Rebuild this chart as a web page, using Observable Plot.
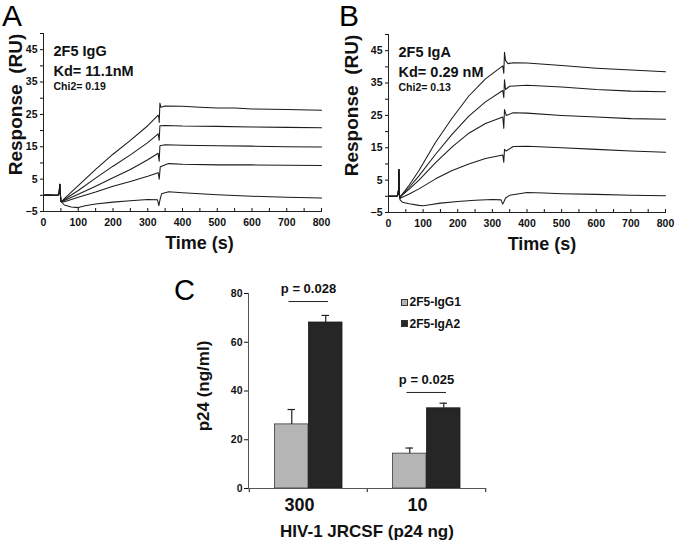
<!DOCTYPE html>
<html><head><meta charset="utf-8">
<script src="https://cdn.jsdelivr.net/npm/d3@7"></script>
<script src="https://cdn.jsdelivr.net/npm/@observablehq/plot@0.6"></script>
<style>
body{margin:0;background:#fff;font-family:"Liberation Sans",Arial,sans-serif;}
#fig{position:relative;width:677px;height:541px;overflow:hidden;background:#fff;}
.panel{position:absolute;}
.letter{position:absolute;font-size:30px;line-height:31px;height:31px;color:#000;font-family:"Liberation Sans",Arial,sans-serif;}
.legend{position:absolute;font-family:"Liberation Sans",Arial,sans-serif;font-weight:bold;font-size:12px;color:#111;}
.legend .row{position:absolute;left:0;white-space:nowrap;display:flex;align-items:center;}
.legend .sw{display:inline-block;width:5px;height:5px;border:0.8px solid #333;margin-right:1.5px;}
</style></head><body><div id="fig"></div>
<script>
// ---------- Panel A : 2F5 IgG sensorgrams (time s, response RU) ----------
const sprTicksX = [0, 100, 200, 300, 400, 500, 600, 700, 800];
const sprMinorX = [0, 50, 100, 150, 200, 250, 300, 350, 400, 450, 500, 550, 600, 650, 700, 750, 800];
const sprTicksY = [-5, 5, 15, 25, 35, 45];
const sprMinorY = [-5, 0, 5, 10, 15, 20, 25, 30, 35, 40, 45, 50];

const baseA = [[0,0],[15,0.1],[30,0],[42,0.1],[45,0.6],[47,3.4],[48.5,0.5],[50,-1.8]];
const a1 = [[52,-2],[60,-1],[80,1],[100,3],[150,8],[200,12.7],[250,17],[300,21.5],[330,24.8],[332,24],[333,22.5],[335,28.5],[338,27.2],[350,27.6],[400,27.5],[450,27.2],[500,27],[550,27],[600,26.7],[700,26.5],[800,26.3]];
const a2 = [[52,-2],[60,-1.3],[100,1.5],[150,5.3],[200,9],[250,12.5],[300,16.3],[330,19],[333,17],[335,21.5],[350,21.6],[400,21.4],[500,21.3],[600,21.1],[700,21],[800,20.9]];
const a3 = [[52,-2],[60,-1.6],[100,0.3],[150,2.8],[200,5.4],[250,8],[300,11],[330,13],[333,10.5],[335,15.3],[350,15.6],[400,15.5],[500,15.3],[600,15.2],[700,15],[800,14.9]];
const a4 = [[52,-2],[60,-2],[100,-0.6],[150,1],[200,2.8],[250,4.3],[300,5.9],[330,7],[333,5],[336,8.8],[360,9.8],[400,9.6],[500,9.4],[600,9.4],[700,9.3],[800,9.2]];
const a5 = [[52,-2],[60,-3],[80,-3.6],[100,-3.8],[120,-3.2],[150,-2.7],[200,-2.1],[250,-1.7],[300,-1.3],[328,-1.4],[332,-3.2],[335,-1.5],[340,0.5],[360,1.1],[400,0.8],[500,0.2],[600,-0.3],[700,-0.6],[800,-0.8]];
const textA = ["2F5 IgG", "Kd= 11.1nM", "Chi2= 0.19"];

// ---------- Panel B : 2F5 IgA sensorgrams ----------
const baseB = [[0,0],[15,0],[25,0.1],[27,0.5],[29,2],[30,8.3],[31.5,0.5],[33,-0.5]];
const b1 = [[35,0],[60,3.5],[88,8],[136,16.7],[184,24.2],[232,31],[280,36.3],[330,40.3],[333,38],[335,44.5],[338,42],[345,41],[360,41.3],[400,41.2],[450,40.8],[500,40.4],[600,39.6],[700,39],[800,38.5]];
const b2 = [[35,0],[60,2.8],[88,6.3],[136,13],[184,19.2],[232,24.8],[280,29.2],[330,32.7],[333,30.5],[335,36],[338,33],[350,34],[400,34.3],[500,33.8],[600,33],[700,32.5],[800,32.3]];
const b3 = [[35,0],[60,2.2],[88,5],[136,10.4],[184,15.3],[232,19.5],[280,22.5],[330,24.5],[333,21],[335,26.8],[340,25],[360,25.8],[400,25.7],[500,25],[600,24.5],[700,24],[800,23.8]];
const b4 = [[35,-0.5],[60,0.7],[88,2.3],[136,5.4],[184,8],[232,10],[280,11.7],[330,12.8],[333,10.5],[335,14.5],[340,14],[360,15.4],[400,15.5],[500,15],[600,14.5],[700,14],[800,13.6]];
const b5 = [[33,-1],[40,-1.8],[60,-2.3],[88,-2.8],[100,-2.9],[120,-2.6],[150,-2.1],[200,-1.6],[250,-1.2],[300,-1.0],[325,-1.1],[330,-2.4],[334,-1.5],[338,-0.5],[350,0.3],[400,1.2],[450,1.0],[500,0.8],[600,0.6],[700,0.3],[800,0.2]];
const textB = ["2F5 IgA", "Kd= 0.29 nM", "Chi2= 0.13"];

// ---------- Panel C : p24 bars ----------
const groupsC = ["300", "10"];
const seriesC = ["2F5-IgG1", "2F5-IgA2"];
const colorsC = ["#b5b5b5", "#262626"];
const igg1 = [26.3, 14.3];
const igg1Err = [6.1, 2.3];
const iga2 = [68.1, 32.9];
const iga2Err = [2.9, 2.1];
const pLabels = ["p = 0.028", "p = 0.025"];
const pLineY = [76.7, 39.4];
const ticksC = [0, 20, 40, 60, 80];

const FONT = "Liberation Sans, Arial, sans-serif";
const fig = document.getElementById("fig");

function place(el, left, top) {
  el.classList.add("panel");
  el.style.left = left + "px";
  el.style.top = top + "px";
  fig.appendChild(el);
}
function letter(t, left, top, size) {
  const d = document.createElement("div");
  d.className = "letter";
  d.textContent = t;
  d.style.left = left + "px";
  d.style.top = top + "px";
  if (size) d.style.fontSize = size + "px";
  fig.appendChild(d);
}

function sprPanel(base, curves, texts, o) {
  const data = curves.flatMap((c, i) => base.concat(c).map(([t, v]) => ({t, v, s: i})));
  return Plot.plot({
    width: o.width, height: 235,
    marginLeft: o.ml, marginRight: o.mr, marginTop: o.mt, marginBottom: o.mb,
    style: {fontFamily: FONT, fontWeight: "bold", fontSize: "10px", color: "#111", background: "transparent"},
    x: {domain: [0, 800]},
    y: {domain: [-5, 50]},
    marks: [
      Plot.axisX({ticks: sprMinorX, tickSize: -3, fill: "none", label: null}),
      Plot.axisX({ticks: sprTicksX, tickSize: 0, tickPadding: 7, fontSize: 10.5, label: null}),
      Plot.axisY({ticks: sprMinorY, tickSize: 3, fill: "none", label: null}),
      Plot.axisY({ticks: sprTicksY, tickSize: 0, tickPadding: 6, fontSize: 10.5, label: null}),
      Plot.frame({anchor: "left", stroke: "#222"}),
      Plot.frame({anchor: "bottom", stroke: "#222"}),
      Plot.line(data, {x: "t", y: "v", z: "s", stroke: "#1c1c1c", strokeWidth: 1.05}),
      Plot.text([texts[0]], {frameAnchor: "top-left", dx: o.tx, dy: 22, textAnchor: "start", lineAnchor: "bottom", fontSize: 14.5}),
      Plot.text([texts[1]], {frameAnchor: "top-left", dx: o.tx, dy: 42, textAnchor: "start", lineAnchor: "bottom", fontSize: 14.5}),
      Plot.text([texts[2]], {frameAnchor: "top-left", dx: o.tx, dy: 56, textAnchor: "start", lineAnchor: "bottom", fontSize: 10.5}),
      Plot.text(["Response\u00a0 (RU)"], {frameAnchor: "left", rotate: -90, dx: o.ydx, dy: -18, fontSize: 19, textAnchor: "middle", lineAnchor: "middle"}),
      Plot.text(["Time (s)"], {frameAnchor: "bottom", dx: o.xdx, dy: 32, fontSize: 18, textAnchor: "middle", lineAnchor: "middle"})
    ]
  });
}

place(sprPanel(baseA, [a1, a2, a3, a4, a5], textA, {width: 335, ml: 43, mr: 14, mt: 8, mb: 49, tx: 10, ydx: -28, xdx: 17}), 0, 25);
place(sprPanel(baseB, [b1, b2, b3, b4, b5], textB, {width: 342, ml: 53, mr: 12, mt: 9, mb: 48, tx: 10, ydx: -37, xdx: 15}), 335, 25);

// Panel C
const rowsG = groupsC.map((g, i) => ({group: g, value: igg1[i], top: igg1[i] + igg1Err[i]}));
const rowsA = groupsC.map((g, i) => ({group: g, value: iga2[i], top: iga2[i] + iga2Err[i]}));
const rowsP = groupsC.map((g, i) => ({group: g, label: pLabels[i], y: pLineY[i]}));

const plotC = Plot.plot({
  width: 360, height: 266,
  marginLeft: 83, marginRight: 40, marginTop: 18, marginBottom: 53,
  style: {fontFamily: FONT, fontWeight: "bold", fontSize: "11px", color: "#111", background: "transparent"},
  x: {domain: groupsC, padding: 0},
  y: {domain: [0, 80]},
  marks: [
    Plot.barY(rowsG, {x: "group", y: "value", fill: colorsC[0], stroke: "#3a3a3a", strokeWidth: 0.8, insetLeft: 25.5, insetRight: 59}),
    Plot.barY(rowsA, {x: "group", y: "value", fill: colorsC[1], stroke: "#1a1a1a", strokeWidth: 0.8, insetLeft: 59.5, insetRight: 25}),
    Plot.ruleX(rowsG, {x: "group", y1: "value", y2: "top", dx: -16.75, stroke: "#222", strokeWidth: 1.2}),
    Plot.tickY(rowsG, {x: "group", y: "top", insetLeft: 38.5, insetRight: 72, stroke: "#222", strokeWidth: 1.2}),
    Plot.ruleX(rowsA, {x: "group", y1: "value", y2: "top", dx: 17.25, stroke: "#222", strokeWidth: 1.2}),
    Plot.tickY(rowsA, {x: "group", y: "top", insetLeft: 72.5, insetRight: 38, stroke: "#222", strokeWidth: 1.2}),
    Plot.tickY(rowsP, {x: "group", y: "y", insetLeft: 39.5, insetRight: 39, stroke: "#222", strokeWidth: 1}),
    Plot.text(rowsP, {x: "group", y: "y", text: "label", dy: -12.5, fontSize: 13, lineAnchor: "middle"}),
    Plot.axisY({ticks: ticksC, tickSize: 4, tickPadding: 2, fontSize: 10.5, label: null}),
    Plot.axisX({tickSize: 0, tickPadding: 10, dx: -9, fontSize: 18, label: null}),
    Plot.axisX({tickSize: 4, dx: -59.25, fill: "none", label: null}),
    Plot.axisX({ticks: ["10"], tickSize: 4, dx: 59.25, fill: "none", label: null}),
    Plot.frame({anchor: "left", stroke: "#555"}),
    Plot.frame({anchor: "bottom", stroke: "#555"}),
    Plot.text(["p24 (ng/ml)"], {frameAnchor: "left", rotate: -90, dx: -45, dy: -5, fontSize: 17, textAnchor: "middle", lineAnchor: "middle"}),
    Plot.text(["HIV-1 JRCSF (p24 ng)"], {frameAnchor: "bottom", dy: 43, fontSize: 17, textAnchor: "middle", lineAnchor: "middle"})
  ]
});
place(plotC, 165, 275);

// Legend for panel C
const leg = document.createElement("div");
leg.className = "legend";
leg.style.left = "401px";
leg.style.top = "295px";
seriesC.forEach((s, i) => {
  const r = document.createElement("div");
  r.className = "row";
  r.style.top = (i * 21.5) + "px";
  const sw = document.createElement("span");
  sw.className = "sw";
  sw.style.background = colorsC[i];
  r.appendChild(sw);
  r.appendChild(document.createTextNode(s));
  leg.appendChild(r);
});
fig.appendChild(leg);

letter("A", 2, 0);
letter("B", 339, 0);
letter("C", 174, 275, 29);
</script>
</body></html>
